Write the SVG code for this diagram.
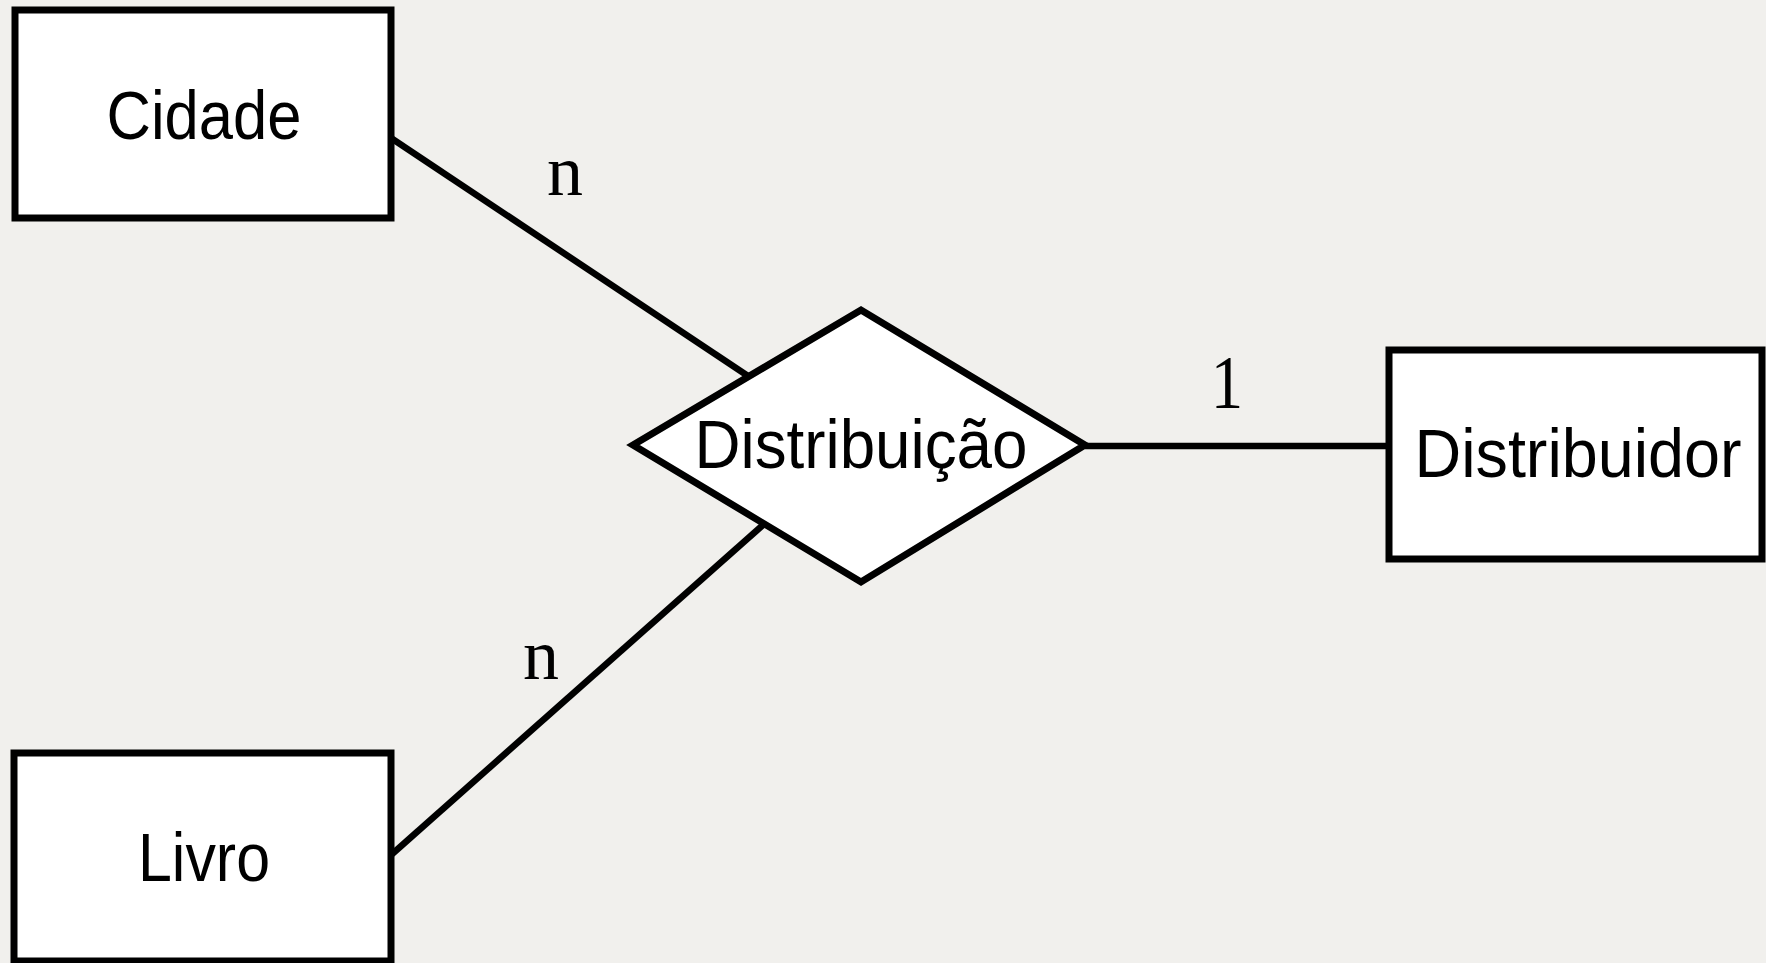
<svg xmlns="http://www.w3.org/2000/svg" width="1766" height="963" viewBox="0 0 1766 963">
<style>
.shape{fill:#ffffff;stroke:#000000;stroke-width:7;stroke-linejoin:miter}
.conn{stroke:#000000;stroke-width:6.5;fill:none}
.lbl{font-family:"Liberation Sans",Arial,sans-serif;font-size:69px;fill:#000000;text-anchor:middle}
.card{font-family:"Liberation Serif","Times New Roman",serif;font-size:72px;fill:#000000;text-anchor:middle}
</style>
<rect x="0" y="0" width="1766" height="963" fill="#f1f0ed"/>
<g id="connectors">
<line class="conn" x1="391" y1="138" x2="748" y2="376"/>
<line class="conn" x1="391" y1="855" x2="763" y2="525"/>
<line class="conn" x1="1085" y1="446" x2="1389" y2="446"/>
<text class="card" x="565" y="195">n</text>
<text class="card" x="541" y="679">n</text>
<text class="card" x="1227" y="408" transform="translate(1227 408) scale(0.9 1.05) translate(-1227 -408)">1</text>
</g>
<g id="cidade">
<rect class="shape" x="15" y="10" width="376" height="208"/>
<text class="lbl" x="204" y="139" textLength="195" lengthAdjust="spacingAndGlyphs">Cidade</text>
</g>
<g id="livro">
<rect class="shape" x="14" y="753" width="377" height="208"/>
<text class="lbl" x="204" y="881" textLength="132" lengthAdjust="spacingAndGlyphs">Livro</text>
</g>
<g id="distribuicao">
<polygon class="shape" points="633,445 861,310 1085,445 861,582"/>
<text class="lbl" x="861" y="468" textLength="333" lengthAdjust="spacingAndGlyphs">Distribuição</text>
</g>
<g id="distribuidor">
<rect class="shape" x="1389" y="350" width="373" height="209"/>
<text class="lbl" x="1578" y="477" textLength="327" lengthAdjust="spacingAndGlyphs">Distribuidor</text>
</g>
</svg>
